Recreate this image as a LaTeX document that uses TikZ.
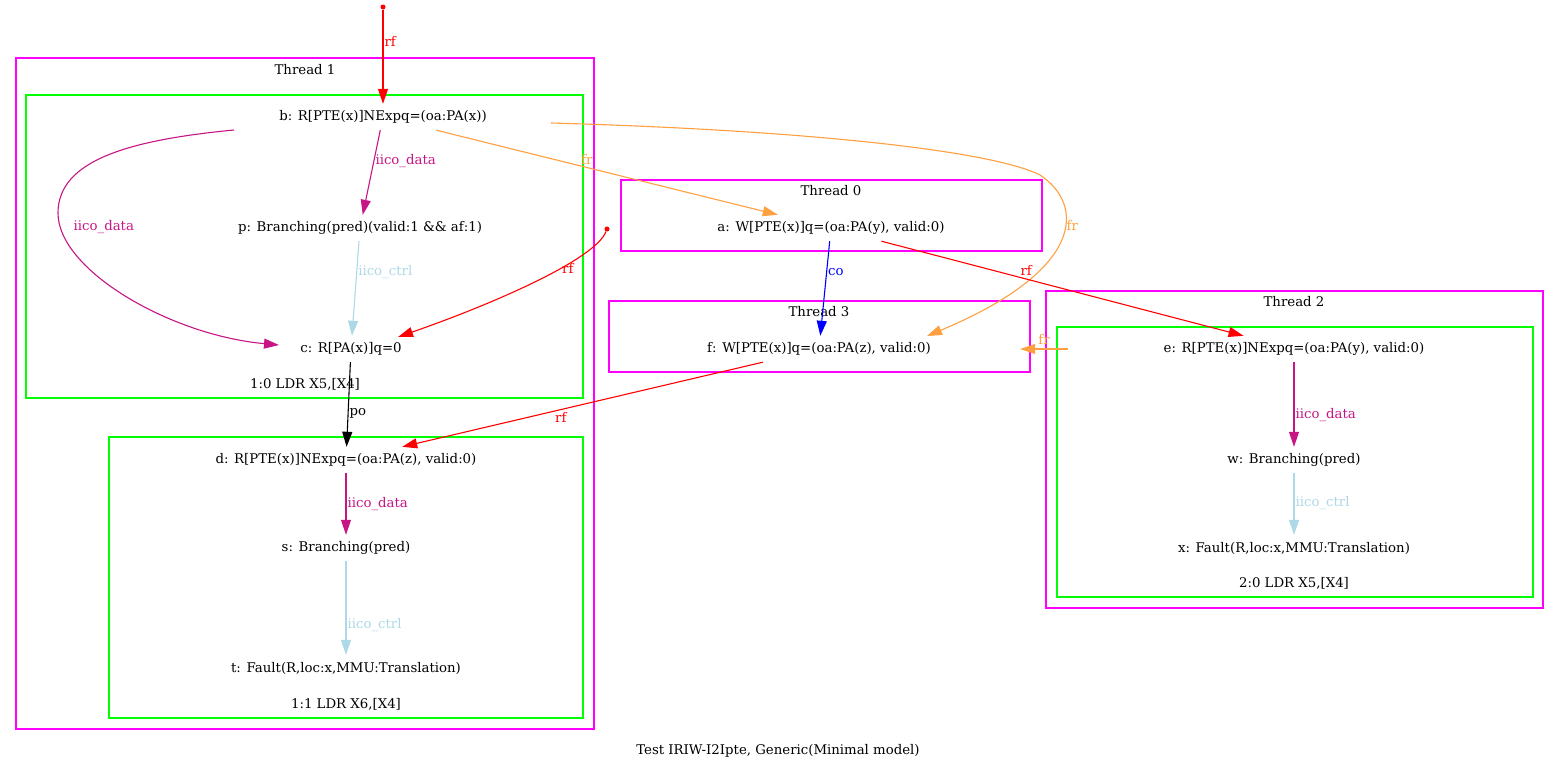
\documentclass[tikz,border=0pt]{standalone}
\usepackage{fontspec}
\setmainfont{DejaVu Serif}
\usetikzlibrary{arrows.meta,calc}
\definecolor{thrmag}{RGB}{255,0,255}
\definecolor{insgreen}{RGB}{0,255,0}
\definecolor{iicodata}{RGB}{199,21,133}
\definecolor{iicoctrl}{RGB}{173,216,230}
\definecolor{frorange}{RGB}{255,160,64}

\begin{document}
\begin{tikzpicture}[
    x=1pt, y=-1pt,
    font=\fontsize{13.3}{15}\selectfont,
    ev/.style={inner xsep=8pt, inner ysep=0pt, minimum height=26pt},
    thread/.style={draw=thrmag, line width=1.1pt},
    instr/.style={draw=insgreen, line width=1.1pt},
    lbl/.style={inner sep=1pt},
    dot/.style={circle, fill=red, inner sep=0pt, minimum size=5pt},
    rel/.style={line width=1.1pt, -{Triangle[length=15pt,width=10pt]}},
    rf/.style={rel, red},
    fr/.style={rel, frorange},
    co/.style={rel, blue},
    po/.style={rel, black},
    iicod/.style={rel, iicodata},
    iicoc/.style={rel, iicoctrl}
]
\useasboundingbox (0,0) rectangle (1559,771);

% Clusters
\draw[thread] (16,58) rectangle (594,729);
\draw[instr] (26,95) rectangle (583,398);
\draw[instr] (109,437) rectangle (583,718);
\draw[thread] (621,180) rectangle (1042,251);
\draw[thread] (609,301) rectangle (1030,372);
\draw[thread] (1046,291) rectangle (1543,608);
\draw[instr] (1057,327) rectangle (1533,597);

\node (thr1) at (305,70) {Thread 1};
\node (ins10) at (305,384) {1:0 LDR X5,[X4]};
\node (ins11) at (346,704) {1:1 LDR X6,[X4]};
\node (thr0) at (831,191) {Thread 0};
\node (thr3) at (819,312) {Thread 3};
\node (thr2) at (1294,302) {Thread 2};
\node (ins20) at (1294,583) {2:0 LDR X5,[X4]};

% Events
\node[ev] (b) at (383,117) {b: R[PTE(x)]NExpq=(oa:PA(x))};
\node[ev] (p) at (360,228) {p: Branching(pred)(valid:1 \&\& af:1)};
\node[ev] (c) at (351,349) {c: R[PA(x)]q=0};
\node[ev] (d) at (346,460) {d: R[PTE(x)]NExpq=(oa:PA(z), valid:0)};
\node[ev] (s) at (346,548) {s: Branching(pred)};
\node[ev] (t) at (346,668) {t: Fault(R,loc:x,MMU:Translation)};
\node[ev] (a) at (831,228) {a: W[PTE(x)]q=(oa:PA(y), valid:0)};
\node[ev, minimum width=402pt] (f) at (819,349) {f: W[PTE(x)]q=(oa:PA(z), valid:0)};
\node[ev, minimum width=452pt] (e) at (1294,349) {e: R[PTE(x)]NExpq=(oa:PA(y), valid:0)};
\node[ev] (w) at (1294,460) {w: Branching(pred)};
\node[ev] (x) at (1294,548) {x: Fault(R,loc:x,MMU:Translation)};

% Initial writes
\node[dot] (init1) at (383,7) {};
\node[dot] (init2) at (607,229) {};

% Thread 1 relations
\draw[rf] (init1) -- node[lbl, pos=0.34, anchor=west] {rf} (b);
\draw[iicod] (b) -- node[lbl, pos=0.36, anchor=west] {iico\_data} (p);
\draw[iicod] ($(b.center)+(-149,13)$) .. controls (130,140) and (58,160) .. (58,213)
    .. controls (58,270) and (170,335) .. node[lbl, pos=0.08, anchor=west, xshift=12pt] {iico\_data} ($(c.center)+(-72,-4)$);
\draw[iicoc] (p) -- node[lbl, pos=0.33, anchor=west] {iico\_ctrl} (c);
\draw[rf] (init2) .. controls (595,260) and (490,305) .. node[lbl, pos=0.37, anchor=west] {rf} ($(c.center)+(47,-12)$);
\draw[po] (c) -- node[lbl, pos=0.6, anchor=west] {po} (d);
\draw[iicod] (d) -- node[lbl, pos=0.5, anchor=west] {iico\_data} (s);
\draw[iicoc] (s) -- node[lbl, pos=0.68, anchor=west] {iico\_ctrl} (t);

% fr from b
\draw[fr] (b) -- node[lbl, pos=0.42, anchor=south west] {fr} (a);
\draw[fr] ($(b.center)+(168,6)$) .. controls (800,130) and (990,150) .. (1040,175)
    .. controls (1085,205) and (1085,270) .. node[lbl, pos=0.4, anchor=west] {fr} ($(f.center)+(108,-13)$);

% Cross-thread relations
\draw[co] (a) -- node[lbl, pos=0.33, anchor=west] {co} (f);
\draw[rf] (a) -- node[lbl, pos=0.38, anchor=south west] {rf} (e);
\draw[rf] (f) -- node[lbl, pos=0.58, anchor=north west] {rf} (d);
\draw[fr] (e) -- node[lbl, pos=0.5, anchor=south, inner sep=4pt] {fr} (f);

% Thread 2 relations
\draw[iicod] (e) -- node[lbl, pos=0.62, anchor=west] {iico\_data} (w);
\draw[iicoc] (w) -- node[lbl, pos=0.48, anchor=west] {iico\_ctrl} (x);

% Caption
\node (caption) at (778,751) {Test IRIW-I2Ipte, Generic(Minimal model)};

\end{tikzpicture}
\end{document}
